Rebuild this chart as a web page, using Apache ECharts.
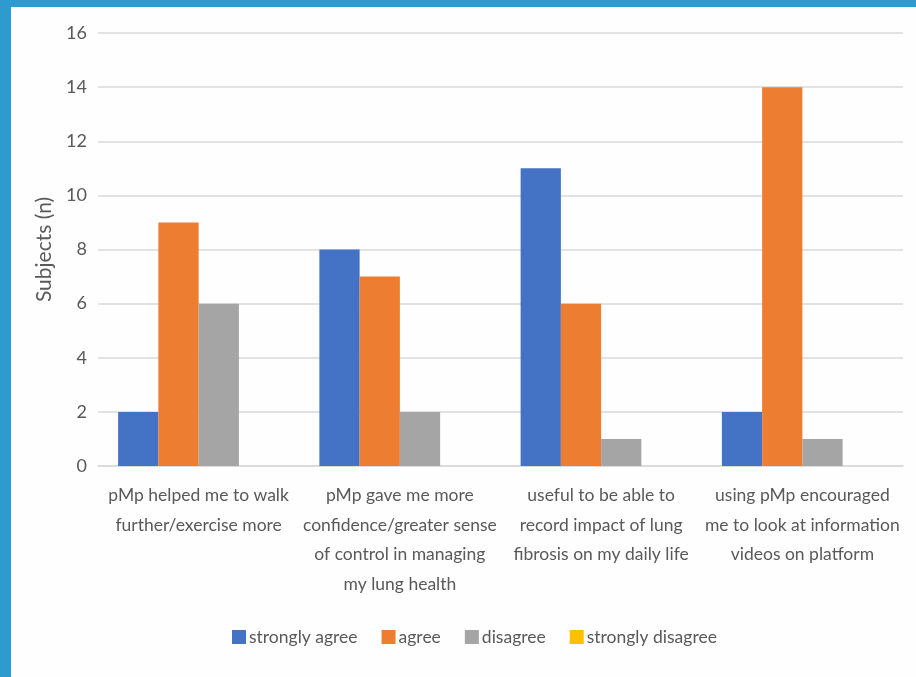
<!DOCTYPE html>
<html>
<head>
<meta charset="utf-8">
<script src="https://cdn.jsdelivr.net/npm/echarts@6/dist/echarts.min.js"></script>
<style>
html,body{margin:0;padding:0;width:916px;height:677px;background:#2E9BD0;overflow:hidden;}
#chart{position:absolute;left:11px;top:7px;width:905px;height:670px;background:#FEFEFE;}
</style>
</head>
<body>
<div id="chart"></div>
<script>
const categories = [
  "pMp helped me to walk\nfurther/exercise more",
  "pMp gave me more\nconfidence/greater sense\nof control in managing\nmy lung health",
  "useful to be able to\nrecord impact of lung\nfibrosis on my daily life",
  "using pMp encouraged\nme to look at information\nvideos on platform"
];
const seriesNames = ["strongly agree", "agree", "disagree", "strongly disagree"];
const stronglyAgree = [2, 8, 11, 2];
const agree = [9, 7, 6, 14];
const disagree = [6, 2, 1, 1];
const stronglyDisagree = [0, 0, 0, 0];
const yTicks = [0, 2, 4, 6, 8, 10, 12, 14, 16];

const colors = ["#4472C4", "#ED7D31", "#A5A5A5", "#FFC000"];
const values = [stronglyAgree, agree, disagree, stronglyDisagree];
const textColor = "#595959";
const fontFamily = "Lato, 'Open Sans', sans-serif";

const chart = echarts.init(document.getElementById('chart'));
chart.setOption({
  animation: false,
  color: colors,
  textStyle: { fontFamily: fontFamily },
  grid: { left: 87, right: 13, top: 26, bottom: 211, containLabel: false },
  legend: {
    left: 221, top: 621, padding: 0,
    itemWidth: 14, itemHeight: 14, itemGap: 24,
    icon: 'rect',
    textStyle: { color: textColor, fontSize: 17.5, fontFamily: fontFamily, padding: [0, 0, 0, -2] },
    data: seriesNames
  },
  xAxis: {
    type: 'category',
    data: categories,
    axisLine: { show: true, lineStyle: { color: '#D9D9D9', width: 1.5 } },
    axisTick: { show: false },
    axisLabel: {
      color: textColor, fontSize: 17.5, fontFamily: fontFamily,
      lineHeight: 29.5, margin: 15, interval: 0
    }
  },
  yAxis: {
    type: 'value',
    min: yTicks[0], max: yTicks[yTicks.length - 1], interval: 2,
    name: 'Subjects (n)',
    nameLocation: 'middle',
    nameGap: 40,
    nameTextStyle: { color: textColor, fontSize: 21, fontFamily: fontFamily },
    axisLine: { show: false },
    axisTick: { show: false },
    axisLabel: { color: textColor, fontSize: 18, fontFamily: fontFamily, margin: 11 },
    splitLine: { lineStyle: { color: '#D9D9D9', width: 1.5 } }
  },
  series: seriesNames.map((n, i) => ({
    name: n,
    type: 'bar',
    data: values[i],
    barGap: '0%',
    barCategoryGap: '20%',
    itemStyle: { color: colors[i] }
  }))
});
</script>
</body>
</html>
